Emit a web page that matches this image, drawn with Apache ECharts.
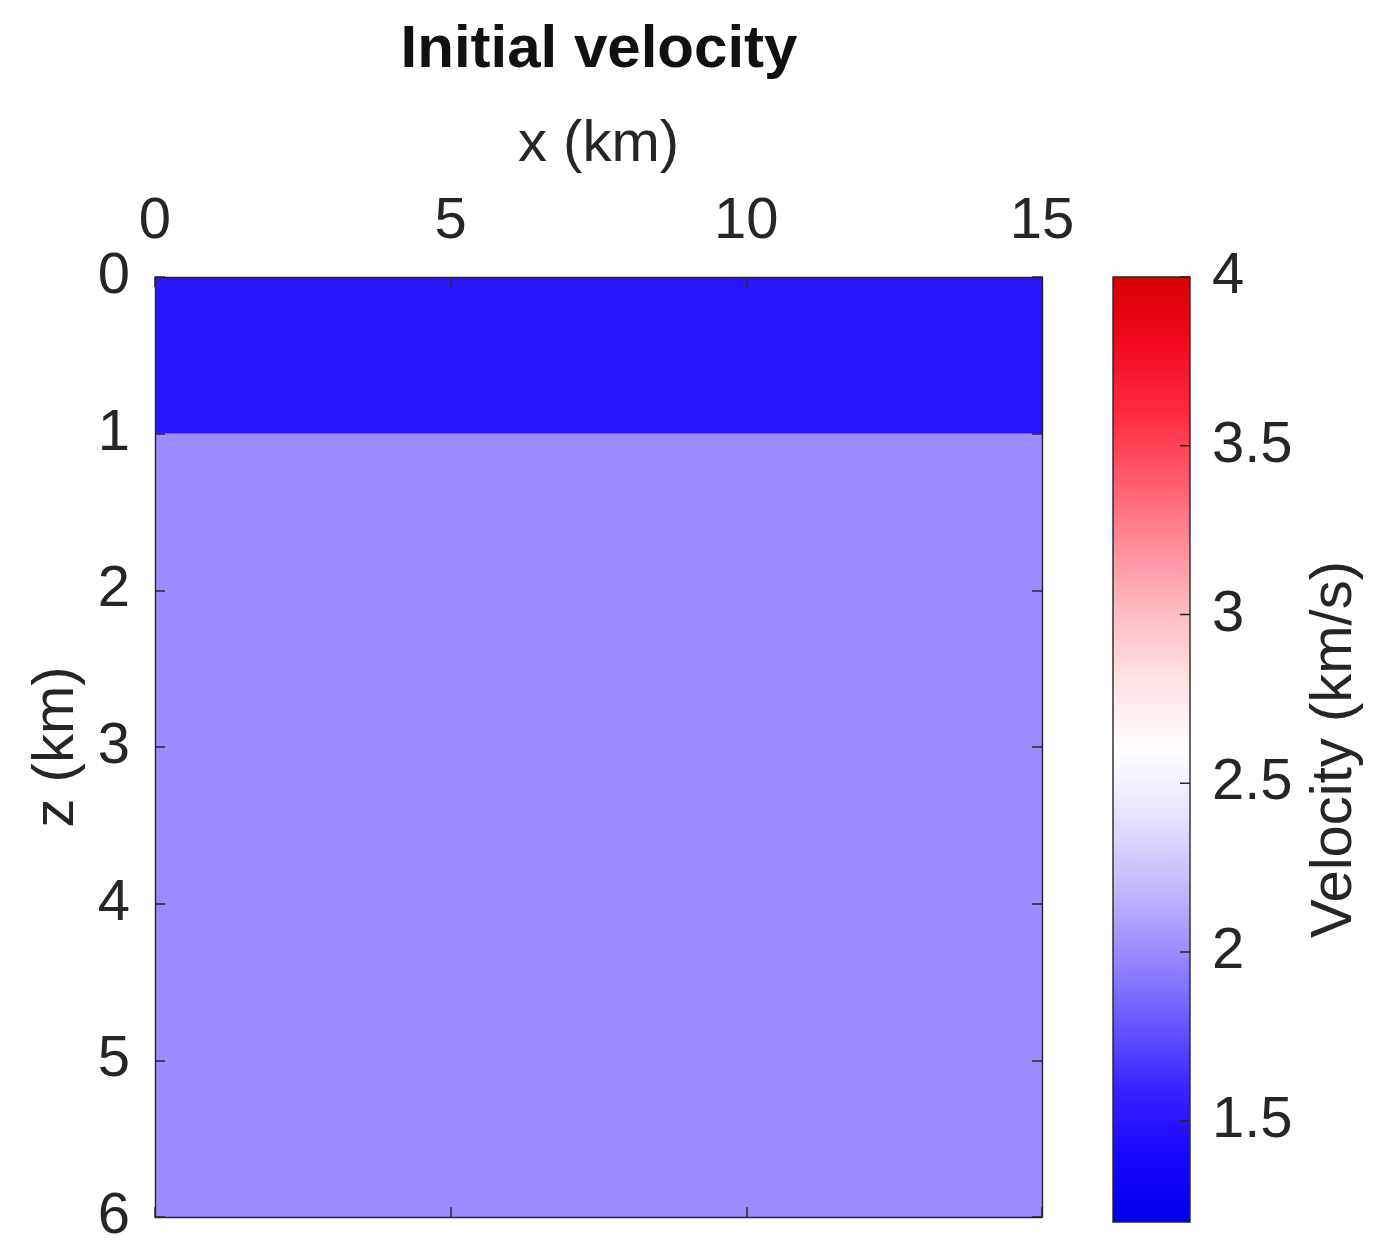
<!DOCTYPE html>
<html>
<head>
<meta charset="utf-8">
<script src="https://cdn.jsdelivr.net/npm/echarts@6/dist/echarts.min.js"></script>
<style>
  html, body { margin: 0; padding: 0; background: #ffffff; }
  #chart { width: 1374px; height: 1246px; }
</style>
</head>
<body>
<div id="chart"></div>
<script>
// Layered starting model: two horizontal layers spanning the whole section
const xExtent = [0, 15];            // km
const zExtent = [0, 6];             // km (depth)
const layerTop = [0, 1];            // km
const layerBottom = [1, 6];         // km
const layerVelocity = [1.5, 2.0];   // km/s

// Tick labels
const xTicks = [0, 5, 10, 15];
const zTicks = [0, 1, 2, 3, 4, 5, 6];
const colorbarTicks = [1.5, 2, 2.5, 3, 3.5, 4];
const colorRange = [1.2, 4.0];      // km/s

// Blue-white-red colour map, evenly spaced over colorRange
const colormap = [
  '#0000e8', '#1a06ff', '#3a24ff', '#6a5aff', '#9a8cff', '#c4baff', '#e6e2ff',
  '#ffffff',
  '#ffe4e6', '#ffbcc4', '#ff8e9c', '#ff5a6c', '#ff2a40', '#f00a1e', '#d80000'
];

const layers = layerVelocity.map((v, i) => [xExtent[0], layerTop[i], v, layerBottom[i], xExtent[1]]);

const TXT = '#262626';
const FONT = 'Liberation Sans, Arial, Helvetica, sans-serif';
const FS = 58;
const TICK_LEN = 10;

const chart = echarts.init(document.getElementById('chart'), null, { renderer: 'canvas' });

const boxAxis = (extra) => Object.assign({
  type: 'value',
  z: 5,
  splitLine: { show: false },
  axisLine: { show: true, onZero: false, lineStyle: { color: TXT, width: 1.4 } },
  axisTick: { show: true, inside: true, length: TICK_LEN, lineStyle: { color: TXT, width: 1.5 } },
  axisLabel: { show: false }
}, extra);

chart.setOption({
  animation: false,
  backgroundColor: '#ffffff',
  graphic: [{
    type: 'text',
    x: 599,
    y: 50,
    style: {
      text: 'Initial velocity',
      font: 'bold 60px ' + FONT,
      fill: '#111111',
      align: 'center',
      verticalAlign: 'middle'
    }
  }],
  grid: [
    { left: 155, top: 277, width: 887, height: 945 },
    { left: 1113, top: 277, width: 77, height: 945 }
  ],
  xAxis: [
    boxAxis({
      gridIndex: 0, position: 'top', min: xExtent[0], max: xExtent[1], interval: 5,
      axisLabel: {
        show: true, fontSize: FS, fontFamily: FONT, color: TXT, margin: 26,
        customValues: xTicks
      },
      name: 'x (km)', nameLocation: 'middle', nameGap: 103,
      nameTextStyle: { fontSize: FS, fontFamily: FONT, color: TXT }
    }),
    boxAxis({ gridIndex: 0, position: 'bottom', min: xExtent[0], max: xExtent[1], interval: 5 }),
    { type: 'value', gridIndex: 1, min: 0, max: 1, show: false }
  ],
  yAxis: [
    boxAxis({
      gridIndex: 0, position: 'left', inverse: true, min: zExtent[0], max: zExtent[1], interval: 1,
      axisLabel: {
        show: true, fontSize: FS, fontFamily: FONT, color: TXT, margin: 25,
        customValues: zTicks
      },
      name: 'z (km)', nameLocation: 'middle', nameGap: 69, nameRotate: 90,
      nameTextStyle: { fontSize: FS, fontFamily: FONT, color: TXT }
    }),
    boxAxis({ gridIndex: 0, position: 'right', inverse: true, min: zExtent[0], max: zExtent[1], interval: 1 }),
    {
      type: 'value', gridIndex: 1, position: 'right', min: colorRange[0], max: colorRange[1], z: 5,
      splitLine: { show: false },
      axisLine: { show: false },
      axisTick: { show: false },
      axisLabel: { show: true, fontSize: FS, fontFamily: FONT, color: TXT, margin: 22,
                   customValues: colorbarTicks },
      name: 'Velocity (km/s)', nameLocation: 'middle', nameGap: 116, nameRotate: 90,
      nameTextStyle: { fontSize: FS, fontFamily: FONT, color: TXT }
    }
  ],
  visualMap: {
    show: false,
    type: 'continuous',
    seriesIndex: 0,
    dimension: 2,
    min: colorRange[0],
    max: colorRange[1],
    inRange: { color: colormap }
  },
  series: [
    {
      // velocity layers
      type: 'custom',
      xAxisIndex: 0,
      yAxisIndex: 0,
      z: 2,
      data: layers,
      renderItem: function (params, api) {
        const p0 = api.coord([api.value(0), api.value(1)]);
        const p1 = api.coord([api.value(4), api.value(3)]);
        return {
          type: 'rect',
          shape: { x: p0[0], y: p0[1], width: p1[0] - p0[0], height: p1[1] - p0[1] },
          style: { fill: api.visual('color'), stroke: null }
        };
      }
    },
    {
      // colour bar with inward ticks on its right edge
      type: 'custom',
      xAxisIndex: 2,
      yAxisIndex: 2,
      z: 2,
      data: [[0, colorRange[1], 1, colorRange[0]]],
      renderItem: function (params, api) {
        const p0 = api.coord([api.value(0), api.value(1)]);
        const p1 = api.coord([api.value(2), api.value(3)]);
        const stops = colormap.map((c, i) => ({ offset: i / (colormap.length - 1), color: c }));
        const children = [{
          type: 'rect',
          shape: { x: p0[0], y: p0[1], width: p1[0] - p0[0], height: p1[1] - p0[1] },
          style: {
            fill: new echarts.graphic.LinearGradient(0, 1, 0, 0, stops),
            stroke: TXT,
            lineWidth: 1.4
          }
        }];
        colorbarTicks.forEach(function (t) {
          const p = api.coord([1, t]);
          children.push({
            type: 'line',
            shape: { x1: p[0] - TICK_LEN, y1: p[1], x2: p[0], y2: p[1] },
            style: { stroke: TXT, lineWidth: 1.5 }
          });
        });
        return { type: 'group', children: children };
      }
    }
  ]
});
</script>
</body>
</html>
